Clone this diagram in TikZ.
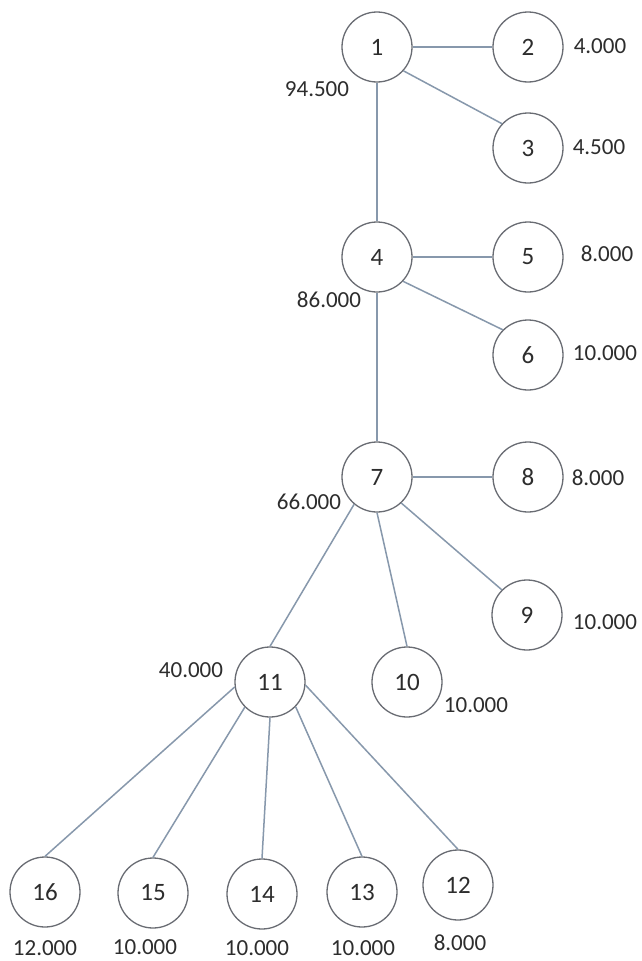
\documentclass[tikz,border=0pt]{standalone}
\usepackage{fontspec}
\setmainfont{Carlito}
\definecolor{circ}{RGB}{105,108,115}
\definecolor{lin}{RGB}{135,152,172}
\definecolor{txt}{RGB}{45,45,45}
\begin{document}
\begin{tikzpicture}[x=1pt,y=-1pt,
  vtx/.style={circle,draw=circ,line width=1.3pt,minimum size=70pt,inner sep=0pt,font=\fontsize{25}{29}\selectfont,text=txt},
  lbl/.style={inner sep=0pt,font=\fontsize{23}{27}\selectfont,text=txt},
  edge/.style={draw=lin,line width=1.5pt}]
\useasboundingbox[fill=white] (0,0) rectangle (641,961);
% vertices
\node[vtx] (n1) at (377,47) {1};
\node[vtx] (n2) at (528,47) {2};
\node[vtx] (n3) at (528,148) {3};
\node[vtx] (n4) at (377,257) {4};
\node[vtx] (n5) at (528,257) {5};
\node[vtx] (n6) at (528,355) {6};
\node[vtx] (n7) at (377,477) {7};
\node[vtx] (n8) at (528,477) {8};
\node[vtx] (n9) at (527,615) {9};
\node[vtx] (n10) at (407,682) {10};
\node[vtx] (n11) at (270,682) {11};
\node[vtx] (n12) at (458,885) {12};
\node[vtx] (n13) at (362,892) {13};
\node[vtx] (n14) at (262,894) {14};
\node[vtx] (n15) at (153,893) {15};
\node[vtx] (n16) at (45,892) {16};
% values
\node[lbl] (v1) at (317,89) {94.500};
\node[lbl] (v2) at (600,46) {4.000};
\node[lbl] (v3) at (599,147) {4.500};
\node[lbl] (v4) at (329,300) {86.000};
\node[lbl] (v5) at (607,254) {8.000};
\node[lbl] (v6) at (605,353) {10.000};
\node[lbl] (v7) at (309,502) {66.000};
\node[lbl] (v8) at (598,478) {8.000};
\node[lbl] (v9) at (605,622) {10.000};
\node[lbl] (v10) at (476,705) {10.000};
\node[lbl] (v11) at (191,670) {40.000};
\node[lbl] (v12) at (460,943) {8.000};
\node[lbl] (v13) at (363,948) {10.000};
\node[lbl] (v14) at (257,948) {10.000};
\node[lbl] (v15) at (145,947) {10.000};
\node[lbl] (v16) at (45,948) {12.000};
% edges
\draw[edge] (n1.east) -- (n2.west);
\draw[edge] (n1.318) -- (n3.137);
\draw[edge] (n1.south) -- (n4.north);
\draw[edge] (n4.east) -- (n5.west);
\draw[edge] (n4.317) -- (n6.135);
\draw[edge] (n4.south) -- (n7.north);
\draw[edge] (n7.east) -- (n8.west);
\draw[edge] (n7.313) -- (n9.135);
\draw[edge] (n7.south) -- (n10.north);
\draw[edge] (n7.230) -- (n11.north);
\draw[edge] (n11.188) -- (n16.north);
\draw[edge] (n11.225) -- (n15.north);
\draw[edge] (n11.south) -- (n14.north);
\draw[edge] (n11.316) -- (n13.north);
\draw[edge] (n11.355) -- (n12.north);
\end{tikzpicture}
\end{document}
